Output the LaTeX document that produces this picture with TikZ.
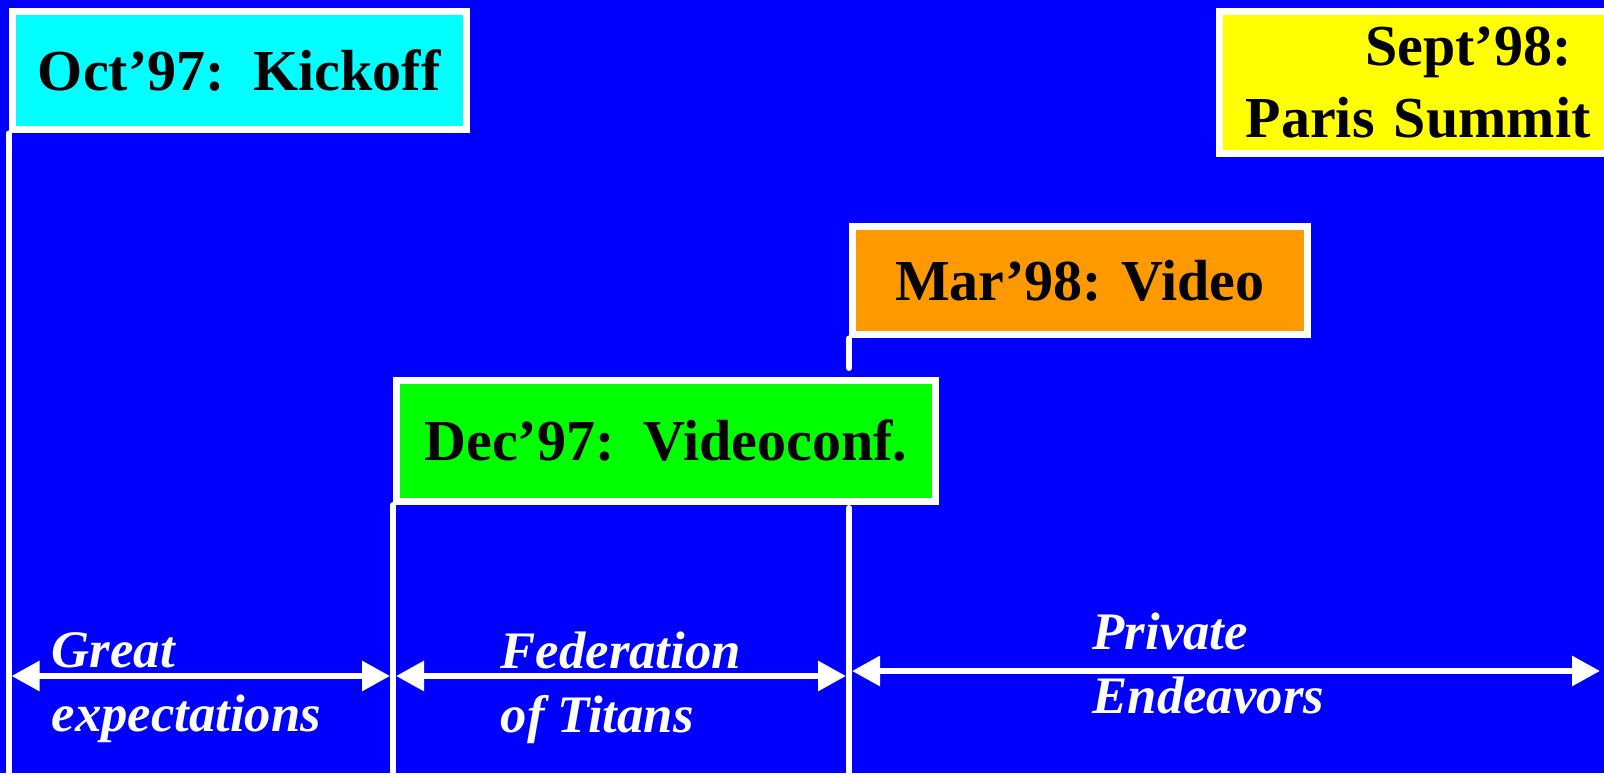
\documentclass[tikz,border=0pt]{standalone}
\usepackage{fontspec}
\setmainfont{Liberation Serif}
\usetikzlibrary{positioning,arrows.meta,calc}
\definecolor{tlblue}{HTML}{0000FF}
\definecolor{tlcyan}{HTML}{00FFFF}
\definecolor{tlyellow}{HTML}{FFFF00}
\definecolor{tlorange}{HTML}{FF9900}
\definecolor{tlgreen}{HTML}{00FF00}

\begin{document}
\begin{tikzpicture}[
    milestone/.style={draw=white, line width=0.07cm, inner sep=0pt, text=black, font=\bfseries\fontsize{16.5}{20.5}\selectfont},
    tick/.style={white, line width=0.06cm, line cap=round},
    span/.style={white, line width=0.06cm, {Triangle[length=0.28cm,width=0.29cm]}-{Triangle[length=0.28cm,width=0.29cm]}},
    phase/.style={align=left, text=white, inner sep=0pt, anchor=west, font=\bfseries\itshape\fontsize{15}{18.2}\selectfont}
  ]
    \useasboundingbox (0,0) rectangle (16.04,7.79);
    \fill[tlblue] (0,0.06) rectangle (16.04,7.79);
    \coordinate (octend) at (0.085,0.06);
    \coordinate (decend) at (3.93,0.07);
    \coordinate (marstub) at (8.49,4.11);
    \coordinate (martop) at (8.49,2.71);
    \coordinate (marend) at (8.49,0.06);
    \node[milestone, fill=tlcyan, minimum width=4.545cm, minimum height=1.18cm, anchor=north west] (oct) at (0.085,7.705) {Oct'97:\ \ Kickoff};
    \node[milestone, fill=tlyellow, text width=3.48cm, inner xsep=0.23cm, align=right, minimum height=1.415cm, anchor=north west] (sept) at (12.16,7.705) {Sept'98:\hspace{0.19cm}\mbox{}\\Paris Summit};
    \node[milestone, fill=tlorange, minimum width=4.545cm, minimum height=1.085cm, anchor=north west] (mar) at (8.49,5.56) {Mar'98: Video};
    \node[milestone, fill=tlgreen, minimum width=5.385cm, minimum height=1.21cm, anchor=north west] (dec) at (3.93,4.02) {Dec'97:\ \ Videoconf.};
    \draw[tick] (oct.south west) -- (octend);
    \draw[tick] (dec.south west) -- (decend);
    \draw[tick] (mar.south west) -- (marstub);
    \draw[tick] (martop) -- (marend);
    \coordinate (gaL) at (0.115,1.03);
    \coordinate (gaR) at (3.90,1.03);
    \coordinate (ftL) at (3.96,1.03);
    \coordinate (ftR) at (8.46,1.03);
    \coordinate (peL) at (8.52,1.08);
    \coordinate (peR) at (16.00,1.08);
    \draw[span] (gaL) -- (gaR);
    \draw[span] (ftL) -- (ftR);
    \draw[span] (peL) -- (peR);
    \node[phase] (great) at (0.51,0.912) {Great\\expectations};
    \node[phase] (titans) at (5.00,0.912) {Federation\\of Titans};
    \node[phase] (private) at (10.92,1.16) {Private\\Endeavors};
\end{tikzpicture}
\end{document}
